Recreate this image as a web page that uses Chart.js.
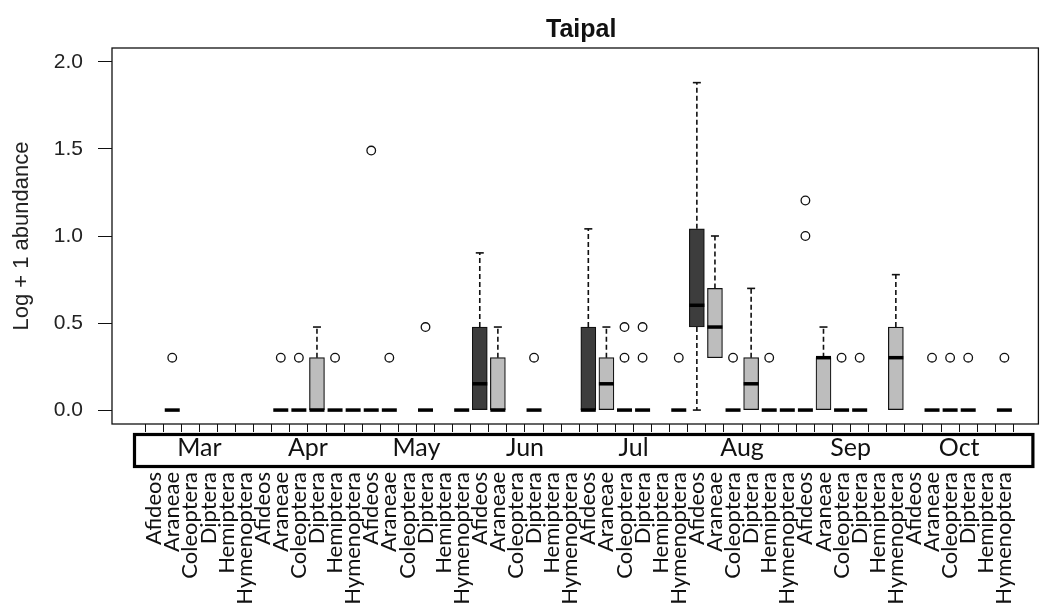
<!DOCTYPE html>
<html>
<head>
<meta charset="utf-8">
<title>Taipal</title>
<script src="https://cdn.jsdelivr.net/npm/chart.js@4.4.1/dist/chart.umd.min.js"></script>
<style>
  body { margin: 0; background: #fff; }
  canvas { display: block; }
</style>
</head>
<body>
<canvas id="taipalChart" width="1044" height="608"></canvas>
<script>
const months = ['Mar', 'Apr', 'May', 'Jun', 'Jul', 'Aug', 'Sep', 'Oct'];
const taxa = ['Afideos', 'Araneae', 'Coleoptera', 'Diptera', 'Hemiptera', 'Hymenoptera'];
const xLabels = months.flatMap(() => taxa);

// one row per month, one column per taxon (null = nothing sampled)
const q1 = [
  null, 0, null, null, null, null,
  null, 0, 0, 0, 0, 0,
  0, 0, null, 0, null, 0,
  0, 0, null, 0, null, null,
  0, 0, 0, 0, null, 0,
  0.477, 0.301, 0, 0, 0, 0,
  0, 0, 0, 0, null, 0,
  null, 0, 0, 0, null, 0
];
const median = [
  null, 0, null, null, null, null,
  null, 0, 0, 0, 0, 0,
  0, 0, null, 0, null, 0,
  0.151, 0, null, 0, null, null,
  0, 0.151, 0, 0, null, 0,
  0.602, 0.477, 0, 0.151, 0, 0,
  0, 0.301, 0, 0, null, 0.301,
  null, 0, 0, 0, null, 0
];
const q3 = [
  null, 0, null, null, null, null,
  null, 0, 0, 0.301, 0, 0,
  0, 0, null, 0, null, 0,
  0.477, 0.301, null, 0, null, null,
  0.477, 0.301, 0, 0, null, 0,
  1.041, 0.699, 0, 0.301, 0, 0,
  0, 0.301, 0, 0, null, 0.477,
  null, 0, 0, 0, null, 0
];
const whiskLow = [
  null, 0, null, null, null, null,
  null, 0, 0, 0, 0, 0,
  0, 0, null, 0, null, 0,
  0, 0, null, 0, null, null,
  0, 0, 0, 0, null, 0,
  0, 0.301, 0, 0, 0, 0,
  0, 0, 0, 0, null, 0,
  null, 0, 0, 0, null, 0
];
const whiskHigh = [
  null, 0, null, null, null, null,
  null, 0, 0, 0.477, 0, 0,
  0, 0, null, 0, null, 0,
  0.903, 0.477, null, 0, null, null,
  1.041, 0.477, 0, 0, null, 0,
  1.881, 1.0, 0, 0.699, 0, 0,
  0, 0.477, 0, 0, null, 0.778,
  null, 0, 0, 0, null, 0
];
// outliers: category index and value
const outlierCat = [1, 7, 8, 10, 12, 13, 15, 21, 26, 26, 27, 27, 29, 32, 34, 36, 36, 38, 39, 43, 44, 45, 47];
const outlierVal = [0.301, 0.301, 0.301, 0.301, 1.491, 0.301, 0.477, 0.301, 0.301, 0.477, 0.301, 0.477,
  0.301, 0.301, 0.301, 1.0, 1.204, 0.301, 0.301, 0.301, 0.301, 0.301, 0.301];
const yTicks = [0, 0.5, 1, 1.5, 2];

const boxData = [];
q1.forEach((v, i) => {
  if (v !== null) boxData.push({ x: i, y: [q1[i], q3[i]] });
});
const outlierData = outlierCat.map((c, k) => ({ x: c, y: outlierVal[k] }));

const boxExtras = {
  id: 'boxExtras',
  beforeDatasetDraw(chart, args) {
    if (args.index !== 0) return;
    const { ctx, scales: { x, y } } = chart;
    ctx.save();
    ctx.strokeStyle = '#111';
    ctx.lineWidth = 1.6;
    q1.forEach((v, i) => {
      if (v === null) return;
      const px = x.getPixelForValue(i);
      const ends = [[q3[i], whiskHigh[i]], [q1[i], whiskLow[i]]];
      ends.forEach(([from, to]) => {
        if (from === to) return;
        ctx.setLineDash([5, 3]);
        ctx.beginPath();
        ctx.moveTo(px, y.getPixelForValue(from));
        ctx.lineTo(px, y.getPixelForValue(to));
        ctx.stroke();
        ctx.setLineDash([]);
        ctx.beginPath();
        ctx.moveTo(px - 4, y.getPixelForValue(to));
        ctx.lineTo(px + 4, y.getPixelForValue(to));
        ctx.stroke();
      });
    });
    ctx.restore();
  },
  afterDatasetDraw(chart, args) {
    if (args.index !== 0) return;
    const { ctx, scales: { x, y } } = chart;
    ctx.save();
    ctx.strokeStyle = '#000';
    ctx.lineWidth = 3.5;
    median.forEach((m, i) => {
      if (m === null) return;
      const px = x.getPixelForValue(i);
      const py = y.getPixelForValue(m);
      ctx.beginPath();
      ctx.moveTo(px - 7.5, py);
      ctx.lineTo(px + 7.5, py);
      ctx.stroke();
    });
    ctx.restore();
  },
  afterDraw(chart) {
    const { ctx, chartArea: a, scales: { x } } = chart;
    ctx.save();
    // plot frame
    ctx.strokeStyle = '#111';
    ctx.lineWidth = 1.3;
    ctx.strokeRect(a.left, a.top, a.right - a.left, a.bottom - a.top);
    // month band under the axis
    const top = a.bottom + 10.5;
    ctx.lineWidth = 3.2;
    ctx.strokeStyle = '#000';
    ctx.strokeRect(a.left + 22.5, top, a.right - 5.5 - (a.left + 22.5), 32);
    ctx.fillStyle = '#111';
    ctx.font = '25px Lato';
    ctx.textAlign = 'center';
    ctx.textBaseline = 'alphabetic';
    months.forEach((m, k) => {
      ctx.fillText(m, x.getPixelForValue(k * 6 + 2.5), top + 21);
    });
    // title
    ctx.font = 'bold 25px "Liberation Sans"';
    ctx.fillStyle = '#111';
    ctx.fillText('Taipal', (a.left + a.right) / 2 + 6, 37);
    ctx.restore();
  }
};

new Chart(document.getElementById('taipalChart'), {
  type: 'bar',
  data: {
    datasets: [{
      type: 'bar',
      data: boxData,
      backgroundColor: ctx => (ctx.raw && ctx.raw.x % 6 === 0) ? '#3d3d3d' : '#bdbdbd',
      borderColor: '#111',
      borderWidth: 1.2,
      borderSkipped: false,
      barThickness: 15,
      grouped: false
    }, {
      type: 'scatter',
      data: outlierData,
      pointStyle: 'circle',
      pointRadius: 4.3,
      pointBorderWidth: 1.3,
      pointBorderColor: '#111',
      pointBackgroundColor: 'rgba(0,0,0,0)'
    }]
  },
  options: {
    responsive: false,
    animation: false,
    devicePixelRatio: 1,
    layout: { padding: { top: 48, right: 1, left: 0, bottom: 0 } },
    plugins: { legend: { display: false }, tooltip: { enabled: false }, title: { display: false } },
    scales: {
      x: {
        type: 'linear',
        offset: false,
        min: -2.33,
        max: 48.88,
        afterBuildTicks: s => { s.ticks = xLabels.map((_, i) => ({ value: i })); },
        afterFit: s => { s.height = 184; s.paddingLeft = 0; s.paddingRight = 0; },
        grid: { display: true, drawOnChartArea: false, drawTicks: true, tickLength: 8, color: '#111', lineWidth: 1 },
        border: { display: false },
        ticks: {
          autoSkip: false,
          maxRotation: 90,
          minRotation: 90,
          padding: 40,
          color: '#111',
          font: { family: 'Lato', size: 22 },
          callback: v => xLabels[v]
        }
      },
      y: {
        min: -0.08,
        max: 2.08,
        afterBuildTicks: s => { s.ticks = yTicks.map(v => ({ value: v })); },
        afterFit: s => { s.width = 112; s.paddingTop = 0; s.paddingBottom = 0; },
        grid: { display: true, drawOnChartArea: false, drawTicks: true, tickLength: 14, color: '#111', lineWidth: 1 },
        border: { display: false },
        ticks: {
          padding: 15,
          color: '#222',
          font: { family: 'Liberation Sans', size: 21 },
          callback: v => v.toFixed(1)
        },
        title: {
          display: true,
          text: 'Log + 1 abundance',
          color: '#222',
          font: { family: 'Liberation Sans', size: 22 },
          padding: { top: 9, bottom: 0 }
        }
      }
    }
  },
  plugins: [boxExtras]
});
</script>
</body>
</html>
